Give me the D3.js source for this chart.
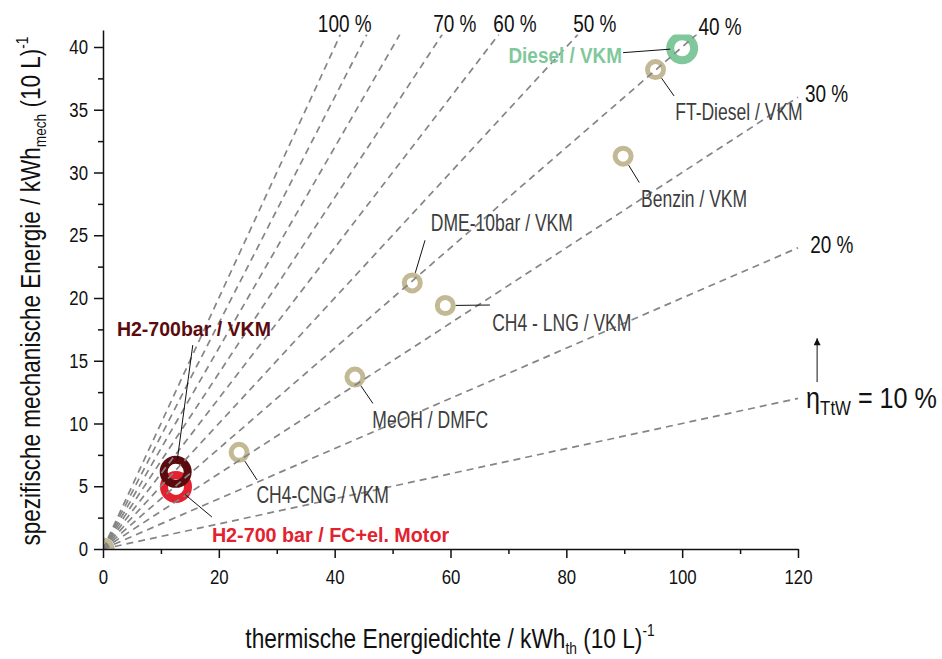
<!DOCTYPE html>
<html>
<head>
<meta charset="utf-8">
<script src="https://cdn.jsdelivr.net/npm/d3@7"></script>
<style>
  body { margin: 0; background: #fff; }
  svg text { font-family: 'Liberation Sans', Arial, sans-serif; }
</style>
</head>
<body>
<div id="chart"></div>
<script>
// fuels (drawing order: tan ones first, then the coloured ones on top)
const fuelNames = ["", "CH4-CNG / VKM", "MeOH / DMFC", "CH4 - LNG / VKM", "DME-10bar / VKM",
  "Benzin / VKM", "FT-Diesel / VKM", "H2-700 bar / FC+el. Motor", "H2-700bar / VKM", "Diesel / VKM"];
const thermDensity = [0.2, 23.5, 43.5, 59.1, 53.4, 89.8, 95.4, 12.6, 12.55, 100];   // kWh_th (10 L)^-1
const mechEnergy   = [0.05, 7.7, 13.7, 19.4, 21.2, 31.3, 38.2, 4.95, 6.15, 39.9];   // kWh_mech (10 L)^-1
const fuelKind     = ["other", "other", "other", "other", "other", "other", "other", "h2fc", "h2vkm", "diesel"];

// efficiency rays eta_TtW
const etaValues = [10, 20, 30, 40, 50, 60, 70, 80, 90, 100];
const etaLabeled = [20, 30, 40, 50, 60, 70, 100];

const xTicks = [0, 20, 40, 60, 80, 100, 120];
const yTicks = [0, 5, 10, 15, 20, 25, 30, 35, 40];

// styles (sx = horizontal squeeze to imitate the condensed face)
const kindStyle = {
  other:  { color: "#c4b995", r: 8,  sw: 5, text: "#3d3d3d", bold: false, size: 24, sx: 0.73 },
  h2fc:   { color: "#e2222f", r: 12, sw: 8, text: "#e2222f", bold: true,  size: 21, sx: 0.94 },
  h2vkm:  { color: "#5b0b0e", r: 12, sw: 8, text: "#5b0b0e", bold: true,  size: 21, sx: 0.93 },
  diesel: { color: "#80c89b", r: 12, sw: 8, text: "#80c89b", bold: true,  size: 22, sx: 0.86 }
};

// annotation layout (data units): label anchor + leader end
const labelLayout = {
  "CH4-CNG / VKM":             { x: 26.5, y: 3.67,  lx: 26.6, ly: 5.5,   anchor: "start" },
  "MeOH / DMFC":               { x: 46.5, y: 9.64,  lx: 46.6, ly: 11.6,  anchor: "start" },
  "CH4 - LNG / VKM":           { x: 67.2, y: 17.37, lx: 66.8, ly: 19.44, anchor: "start" },
  "DME-10bar / VKM":           { x: 56.6, y: 25.3,  lx: 55.6, ly: 24.6,  anchor: "start" },
  "Benzin / VKM":              { x: 92.9, y: 27.25, lx: 92.6, ly: 29.2,  anchor: "start" },
  "FT-Diesel / VKM":           { x: 98.8, y: 34.2,  lx: 98.6, ly: 36.1,  anchor: "start" },
  "H2-700 bar / FC+el. Motor": { x: 18.8, y: 0.56,  lx: 18.8, ly: 2.55,  anchor: "start" },
  "H2-700bar / VKM":           { x: 2.4,  y: 16.97, lx: 15.5, ly: 16.25, anchor: "start" },
  "Diesel / VKM":              { x: 89.6, y: 38.7,  lx: 89.8, ly: 39.55, anchor: "end" }
};
const pctLabelPos = { 100: [37.1, 41.2], 70: [57.0, 41.2], 60: [67.4, 41.2], 50: [81.2, 41.2],
  40: [102.8, 40.96], 30: [121.2, 35.6], 20: [122.1, 23.6] };

const W = 942, H = 659;
const x = d3.scaleLinear().domain([0, 120]).range([103, 798]);
const y = d3.scaleLinear().domain([0, 40]).range([549, 47]);
const yTop = 41.35, clipTop = 41;

// move x/y into a transform and squeeze horizontally
function squeeze(sel, s) {
  sel.each(function () {
    const t = d3.select(this);
    const tx = +t.attr("x") || 0, ty = +t.attr("y") || 0;
    t.attr("x", null).attr("y", null)
      .attr("transform", `translate(${tx},${ty}) scale(${s},1)`);
  });
}

const svg = d3.select("#chart").append("svg")
  .attr("width", W).attr("height", H);

svg.append("defs").append("clipPath").attr("id", "plotclip")
  .append("rect")
  .attr("x", x(0)).attr("y", y(clipTop))
  .attr("width", x(120) - x(0) + 40).attr("height", y(0) - y(clipTop));

const plot = svg.append("g").attr("clip-path", "url(#plotclip)");

const fuels = fuelNames.map((name, i) => ({
  name, tx: thermDensity[i], me: mechEnergy[i], kind: fuelKind[i]
}));

// circles
plot.selectAll("circle.fuel")
  .data(fuels)
  .join("circle")
  .attr("class", "fuel")
  .attr("cx", d => x(d.tx))
  .attr("cy", d => y(d.me))
  .attr("r", d => kindStyle[d.kind].r)
  .attr("fill", "none")
  .attr("stroke", d => kindStyle[d.kind].color)
  .attr("stroke-width", d => kindStyle[d.kind].sw);

// efficiency rays from origin
plot.selectAll("line.eta")
  .data(etaValues)
  .join("line")
  .attr("class", "eta")
  .attr("x1", x(0)).attr("y1", y(0))
  .attr("x2", d => x(Math.min(120, clipTop / (d / 100))))
  .attr("y2", d => y(Math.min(120, clipTop / (d / 100)) * d / 100))
  .attr("stroke", "#858585")
  .attr("stroke-width", 1.7)
  .attr("stroke-dasharray", "7,5");

// leader lines
const labeled = fuels.filter(d => labelLayout[d.name]);
svg.selectAll("line.leader")
  .data(labeled)
  .join("line")
  .attr("class", "leader")
  .each(function (d) {
    const L = labelLayout[d.name];
    const cx = x(d.tx), cy = y(d.me), ex = x(L.lx), ey = y(L.ly);
    const len = Math.hypot(ex - cx, ey - cy);
    const st = kindStyle[d.kind];
    const r0 = d.kind === "other" ? st.r + st.sw / 2 : st.r;
    d3.select(this)
      .attr("x1", cx + (ex - cx) / len * r0).attr("y1", cy + (ey - cy) / len * r0)
      .attr("x2", ex).attr("y2", ey);
  })
  .attr("stroke", "#111")
  .attr("stroke-width", 1);

// fuel labels
svg.selectAll("text.fuelLabel")
  .data(labeled)
  .join("text")
  .attr("class", "fuelLabel")
  .attr("x", d => x(labelLayout[d.name].x))
  .attr("y", d => y(labelLayout[d.name].y))
  .attr("text-anchor", d => labelLayout[d.name].anchor)
  .attr("fill", d => kindStyle[d.kind].text)
  .attr("font-weight", d => kindStyle[d.kind].bold ? "bold" : "normal")
  .attr("font-size", d => kindStyle[d.kind].size)
  .text(d => d.name)
  .each(function (d) { squeeze(d3.select(this), kindStyle[d.kind].sx); });

// percentage labels
svg.selectAll("text.pct")
  .data(etaLabeled)
  .join("text")
  .attr("class", "pct")
  .attr("x", d => x(pctLabelPos[d][0]))
  .attr("y", d => y(pctLabelPos[d][1]))
  .attr("font-size", 24)
  .attr("fill", "#111")
  .text(d => d + " %")
  .call(squeeze, 0.79);

// eta_TtW = 10 % label with arrow
const etaLab = svg.append("text")
  .attr("x", x(121.4)).attr("y", y(11.2))
  .attr("font-size", 30).attr("fill", "#111");
etaLab.append("tspan").text("η");
etaLab.append("tspan").attr("font-size", 20).attr("dy", 7).text("TtW");
etaLab.append("tspan").attr("dy", -7).text(" = 10 %");
etaLab.call(squeeze, 0.84);

svg.append("defs").append("marker")
  .attr("id", "arrow").attr("viewBox", "0 0 10 10")
  .attr("refX", 10).attr("refY", 5)
  .attr("markerWidth", 14).attr("markerHeight", 7)
  .attr("markerUnits", "userSpaceOnUse")
  .attr("orient", "auto")
  .append("path").attr("d", "M0,0 L10,5 L0,10 Z").attr("fill", "#111");
svg.append("line")
  .attr("x1", x(123.3)).attr("y1", y(13.3))
  .attr("x2", x(123.3)).attr("y2", y(16.8))
  .attr("stroke", "#111").attr("stroke-width", 1)
  .attr("marker-end", "url(#arrow)");

// axes
const fontAxis = g => g.selectAll("text")
  .attr("font-family", null).attr("font-size", 21).attr("fill", "#111");

svg.append("g").attr("transform", `translate(0,${y(0)})`)
  .call(d3.axisBottom(x).tickValues(xTicks).tickSize(9).tickPadding(11).tickSizeOuter(0))
  .call(fontAxis)
  .call(g => g.selectAll("text").call(squeeze, 0.8));
svg.append("g").attr("transform", `translate(0,${y(0)})`)
  .call(d3.axisBottom(x).tickValues(d3.range(10, 120, 20)).tickSize(5).tickFormat(""))
  .call(g => g.select(".domain").remove());

const yAxisScale = y.copy().domain([0, yTop]).range([y(0), y(yTop)]);
svg.append("g").attr("transform", `translate(${x(0)},0)`)
  .call(d3.axisLeft(yAxisScale).tickValues(yTicks).tickSize(9).tickPadding(6).tickSizeOuter(0))
  .call(fontAxis)
  .call(g => g.selectAll("text").call(squeeze, 0.8));
svg.append("g").attr("transform", `translate(${x(0)},0)`)
  .call(d3.axisLeft(yAxisScale).tickValues(d3.range(2.5, 40, 5)).tickSize(5).tickFormat(""))
  .call(g => g.select(".domain").remove());

svg.selectAll(".domain, .tick line").attr("stroke", "#111").attr("stroke-width", 1.5);

// axis titles
const xt = svg.append("text")
  .attr("x", 450).attr("y", 648)
  .attr("text-anchor", "middle").attr("font-size", 28).attr("fill", "#111");
xt.append("tspan").text("thermische Energiedichte / kWh");
xt.append("tspan").attr("font-size", 17).attr("dy", 6).text("th");
xt.append("tspan").attr("dy", -6).text(" (10 L)");
xt.append("tspan").attr("font-size", 17).attr("dy", -12).text("-1");
xt.call(squeeze, 0.81);

const yt = svg.append("text")
  .attr("transform", "translate(40,291) rotate(-90) scale(0.805,1)")
  .attr("text-anchor", "middle").attr("font-size", 28).attr("fill", "#111");
yt.append("tspan").text("spezifische mechanische Energie / kWh");
yt.append("tspan").attr("font-size", 17).attr("dy", 6).text("mech");
yt.append("tspan").attr("dy", -6).text(" (10 L)");
yt.append("tspan").attr("font-size", 17).attr("dy", -12).text("-1");
</script>
</body>
</html>
